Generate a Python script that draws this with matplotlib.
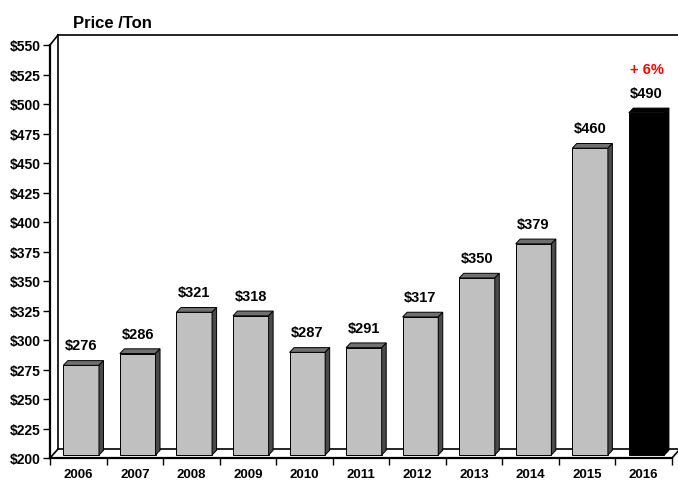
import matplotlib.pyplot as plt
from matplotlib.patches import Polygon
from matplotlib.ticker import FormatStrFormatter
import numpy as np

years = ['2006', '2007', '2008', '2009', '2010', '2011', '2012', '2013', '2014', '2015', '2016']
prices = [276, 286, 321, 318, 287, 291, 317, 350, 379, 460, 490]
value_labels = ['$' + str(p) for p in prices]
front_colors = ['#c0c0c0'] * 10 + ['black']
top_colors = ['#707070'] * 10 + ['black']
side_colors = ['#4a4a4a'] * 10 + ['black']
change_label = '+ 6%'

plt.rcParams['font.family'] = ['Liberation Sans', 'DejaVu Sans']
plt.rcParams['font.weight'] = 'bold'

fig = plt.figure(figsize=(6.78, 4.81), dpi=100)
ax = fig.add_axes([50 / 678, 22 / 481, 622 / 678, 413 / 481])
ax.set_xlim(-0.5, 10.5)
ax.set_ylim(200, 550)

# data units per pixel
px = 11 / 622
py = 350 / 413

x = np.arange(len(years))
w = 0.63
# bars sit a little back on the floor
offx, offy = 2.9 * px, 3 * py
# depth of the bar tops
dx, dy = 4.5 * px, 4.7 * py

ax.bar(x + offx, np.array(prices) - 200, bottom=200 + offy, width=w,
       color=front_colors, edgecolor='black', linewidth=0.7, zorder=3)
for i, v in enumerate(prices):
    l = i + offx - w / 2
    r = i + offx + w / 2
    t = v + offy
    b = 200 + offy
    ax.add_patch(Polygon([(l, t), (r, t), (r + dx, t + dy), (l + dx, t + dy)],
                         closed=True, facecolor=top_colors[i], edgecolor='black',
                         linewidth=0.7, zorder=3))
    ax.add_patch(Polygon([(r, b), (r + dx, b + dy), (r + dx, t + dy), (r, t)],
                         closed=True, facecolor=side_colors[i], edgecolor='black',
                         linewidth=0.7, zorder=3))
    ax.text(i + offx, v + 16, value_labels[i], ha='center', va='baseline',
            fontsize=10.5, fontweight='bold', zorder=4)

ax.text(10 + offx, prices[-1] + 36, change_label, ha='center', va='baseline',
        fontsize=10.5, fontweight='bold', color='#ff0000')

# back wall and floor lines
wx, wy = 8 * px, 10 * py
fx, fy = 8 * px, 9 * py
lk = dict(color='black', linewidth=1.2, clip_on=False, zorder=2)
ax.plot([-0.5, -0.5 + wx], [550, 550 + wy], **lk)
ax.plot([-0.5 + wx, -0.5 + wx], [200 + fy, 550 + wy], **lk)
ax.plot([-0.5 + wx, 10.5 + 8 * wx], [550 + wy, 550 + wy], **lk)
ax.plot([-0.5, -0.5 + fx], [200, 200 + fy], **lk)
ax.plot([-0.5 + fx, 10.5 + fx], [200 + fy, 200 + fy], **lk)
ax.plot([10.5, 10.5 + fx], [200, 200 + fy], **lk)

for s in ['top', 'right']:
    ax.spines[s].set_visible(False)
for s in ['left', 'bottom']:
    ax.spines[s].set_linewidth(1.6)

ax.set_yticks(np.arange(200, 551, 25))
ax.yaxis.set_major_formatter(FormatStrFormatter('$%d'))
ax.tick_params(axis='y', direction='out', length=5, width=1, pad=1.5, labelsize=10)
ax.set_xticks(x)
ax.set_xticklabels(years)
ax.set_xticks(np.arange(-0.5, 11, 1), minor=True)
ax.tick_params(axis='x', which='major', length=0, pad=7, labelsize=9.5)
ax.tick_params(axis='x', which='minor', direction='out', length=5, width=1)
for lab in ax.get_xticklabels() + ax.get_yticklabels():
    lab.set_fontweight('bold')

fig.text(73 / 678, 1 - 23 / 481, 'Price /Ton', ha='left', va='center',
         fontsize=12, fontweight='bold')

fig.savefig('out.png', dpi=100)
